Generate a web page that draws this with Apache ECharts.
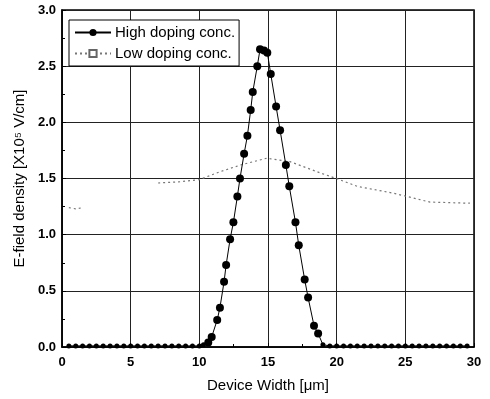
<!DOCTYPE html>
<html>
<head>
<meta charset="utf-8">
<script src="https://cdn.jsdelivr.net/npm/echarts@6/dist/echarts.min.js"></script>
<style>
  html, body { margin: 0; padding: 0; background: #fff; }
  #chart { width: 490px; height: 399px; }
</style>
</head>
<body>
<div id="chart"></div>
<script>
// x ticks / y ticks
const xTicks = [0, 5, 10, 15, 20, 25, 30];
const yTicks = [0.0, 0.5, 1.0, 1.5, 2.0, 2.5, 3.0];

// high doping: points along the baseline (left + right of the peak)
const highBaseX = [0.5, 1.0, 1.5, 2.0, 2.5, 3.0, 3.5, 4.0, 4.5, 5.0, 5.5, 6.0, 6.5, 7.0, 7.5, 8.0, 8.5, 9.0, 9.5, 10.0, 10.3,
                   19.0, 19.5, 20.0, 20.5, 21.0, 21.5, 22.0, 22.5, 23.0, 23.5, 24.0, 24.5, 25.0, 25.5, 26.0, 26.5, 27.0, 27.5, 28.0, 28.5, 29.0, 29.5];
const highBaseY = [0.01, 0.01, 0.01, 0.01, 0.01, 0.01, 0.01, 0.01, 0.01, 0.01, 0.01, 0.01, 0.01, 0.01, 0.01, 0.01, 0.01, 0.01, 0.01, 0.01, 0.02,
                   0.02, 0.01, 0.01, 0.01, 0.01, 0.01, 0.01, 0.01, 0.01, 0.01, 0.01, 0.01, 0.01, 0.01, 0.01, 0.01, 0.01, 0.01, 0.01, 0.01, 0.01, 0.01];

// high doping: the peak
const highPeakX = [10.65, 10.9, 11.3, 11.5, 11.8, 11.95, 12.24, 12.48, 12.77, 12.96, 13.26, 13.5, 13.74, 13.89, 14.22, 14.42,
                   14.71, 14.95, 15.2, 15.59, 15.88, 16.3, 16.55, 17.0, 17.24, 17.67, 17.92, 18.35, 18.65];
const highPeakY = [0.04, 0.09, 0.24, 0.35, 0.58, 0.73, 0.96, 1.11, 1.34, 1.50, 1.72, 1.88, 2.11, 2.27, 2.50, 2.65,
                   2.64, 2.62, 2.43, 2.14, 1.93, 1.62, 1.43, 1.11, 0.905, 0.60, 0.44, 0.19, 0.12];

// low doping (dotted, parts lost in the scan are left empty)
const lowX = [0.5, 1.0, 1.5, 2.0, 7.0, 8.5, 10.0, 11.5, 13.0, 14.9, 16.6, 18.8, 20.2, 21.5, 24.1, 26.8, 29.7];
const lowY = [1.24, 1.23, 1.24, null, 1.46, 1.47, 1.49, 1.56, 1.62, 1.68, 1.65, 1.55, 1.49, 1.43, 1.37, 1.29, 1.28];

const highData = [];
for (let i = 0; i < 21; i++) highData.push({ value: [highBaseX[i], highBaseY[i]], symbolSize: 5 });
for (let i = 0; i < highPeakX.length; i++) highData.push({ value: [highPeakX[i], highPeakY[i]] });
for (let i = 21; i < highBaseX.length; i++) highData.push({ value: [highBaseX[i], highBaseY[i]], symbolSize: 5 });

const lowData = lowX.map((x, i) => [x, lowY[i]]);

const chart = echarts.init(document.getElementById('chart'));
const font = 'Liberation Sans, Arial, sans-serif';

chart.setOption({
  animation: false,
  backgroundColor: '#fff',
  grid: {
    left: 62, right: 16, top: 10, bottom: 52,
    show: true, borderColor: '#000', borderWidth: 1.5
  },
  legend: {
    orient: 'vertical',
    left: 69, top: 20,
    backgroundColor: '#fff',
    borderColor: '#000', borderWidth: 1,
    padding: [5, 4, 5, 5],
    itemGap: 6,
    itemWidth: 36, itemHeight: 9,
    textStyle: { fontFamily: font, fontSize: 15, color: '#000', padding: [0, 0, 0, -1] },
    data: ['High doping conc.', 'Low doping conc.']
  },
  xAxis: {
    type: 'value', min: 0, max: 30, interval: 5,
    name: 'Device Width [\u03bcm]', nameLocation: 'middle', nameGap: 31,
    nameTextStyle: { fontFamily: font, fontSize: 15, color: '#000' },
    axisLine: { lineStyle: { color: '#000', width: 1.5 } },
    axisTick: { inside: true, length: 4, lineStyle: { color: '#000' } },
    minorTick: { show: true, splitNumber: 2, length: 3, lineStyle: { color: '#000' } },
    axisLabel: { fontFamily: font, fontSize: 13, fontWeight: 'bold', color: '#000', margin: 9 },
    splitLine: { show: true, lineStyle: { color: '#222', width: 1 } }
  },
  yAxis: {
    type: 'value', min: 0, max: 3, interval: 0.5,
    name: 'E-field density [X10\u2075 V/cm]', nameLocation: 'middle', nameGap: 31,
    nameTextStyle: { fontFamily: font, fontSize: 15, color: '#000' },
    axisLine: { show: true, lineStyle: { color: '#000', width: 1.5 } },
    axisTick: { show: true, inside: true, length: 4, lineStyle: { color: '#000' } },
    minorTick: { show: true, splitNumber: 2, length: 3, lineStyle: { color: '#000' } },
    axisLabel: {
      fontFamily: font, fontSize: 13, fontWeight: 'bold', color: '#000', margin: 6,
      formatter: v => v.toFixed(1)
    },
    splitLine: { show: true, lineStyle: { color: '#222', width: 1 } }
  },
  series: [
    {
      name: 'High doping conc.',
      type: 'line',
      data: highData,
      symbol: 'circle',
      symbolSize: 8,
      itemStyle: { color: '#000' },
      lineStyle: { color: '#000', width: 1 },
      z: 5
    },
    {
      name: 'Low doping conc.',
      type: 'line',
      data: lowData,
      connectNulls: false,
      symbol: 'emptyRect',
      symbolSize: 5,
      showSymbol: false,
      itemStyle: { color: '#666', borderColor: '#666' },
      lineStyle: { color: '#777', width: 1.2, type: [2, 3] },
      z: 4
    }
  ]
});
</script>
</body>
</html>
